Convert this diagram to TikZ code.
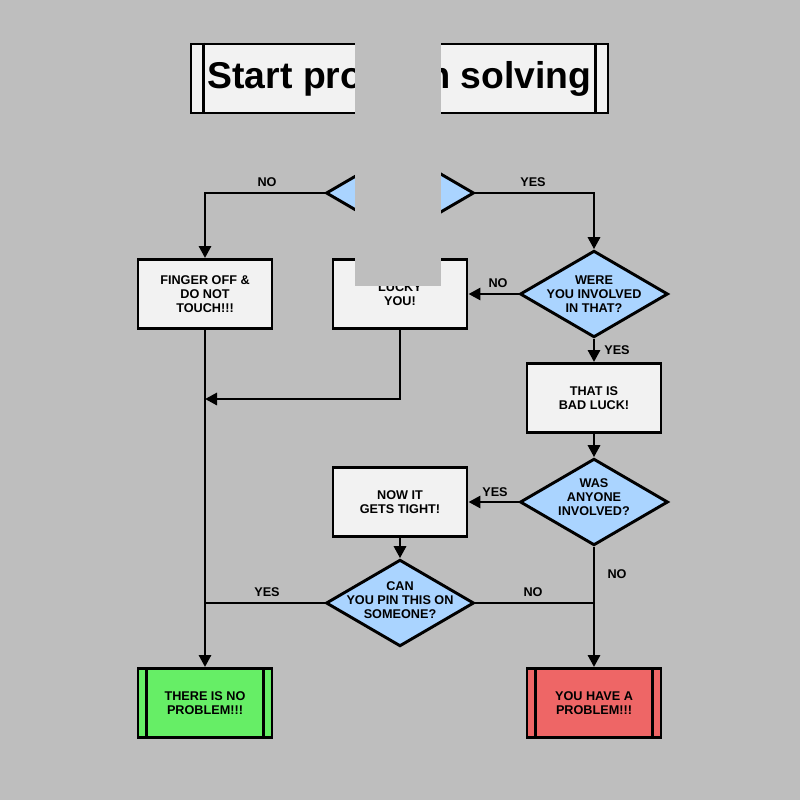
\documentclass[tikz,border=0pt]{standalone}
\usepackage{fontspec}
\setmainfont{Liberation Sans}
\usetikzlibrary{shapes.geometric,arrows.meta}
\definecolor{bg}{HTML}{BEBEBE}
\definecolor{boxf}{HTML}{F2F2F2}
\definecolor{dia}{HTML}{AAD4FF}
\definecolor{gr}{HTML}{66EE66}
\definecolor{rd}{HTML}{EE6666}
\begin{document}
\begin{tikzpicture}[x=0.75pt,y=-0.75pt,
  box/.style={draw,line width=2.2pt,fill=boxf,minimum width=100.5pt,minimum height=51.75pt,inner sep=0pt,align=center,font=\fontsize{9.5}{10.5}\selectfont\bfseries},
  dm/.style={draw,line width=2.2pt,fill=dia,diamond,minimum width=111pt,minimum height=65pt,inner sep=0pt},
  lab/.style={font=\fontsize{9.5}{10.5}\selectfont\bfseries,align=center,inner sep=0pt},
  ln/.style={line width=2.2pt},
  ar/.style={line width=2.2pt,-{Triangle[length=9pt,width=9pt]}},
  bar/.style={line width=2.2pt}]
\fill[bg] (0,0) rectangle (800,800);
\useasboundingbox (0,0) rectangle (800,800);
\node[box,minimum width=312.75pt,minimum height=51.75pt,font=\fontsize{28}{30}\selectfont\bfseries] (t) at (399.5,78.5) {Start problem solving};
\draw[bar] ([xshift=10.5pt]t.north west) -- ([xshift=10.5pt]t.south west);
\draw[bar] ([xshift=-10.5pt]t.north east) -- ([xshift=-10.5pt]t.south east);
\node[dm] (d1) at (400,193) {};
\node[box] (f) at (205,294) {FINGER OFF \&\\DO NOT\\TOUCH!!!};
\node[box] (l) at (400,294) {LUCKY\\YOU!};
\node[dm] (d2) at (594,294) {};
\node[lab] at (594,294) {WERE\\YOU INVOLVED\\IN THAT?};
\node[box] (b) at (594,398) {THAT IS\\BAD LUCK!};
\node[dm] (d3) at (594,502) {};
\node[lab] at (594,497) {WAS\\ANYONE\\INVOLVED?};
\node[box] (n) at (400,502) {NOW IT\\GETS TIGHT!};
\node[dm] (d4) at (400,603) {};
\node[lab] at (400,600) {CAN\\YOU PIN THIS ON\\SOMEONE?};
\node[box,fill=gr] (g) at (205,703) {THERE IS NO\\PROBLEM!!!};
\node[box,fill=rd] (r) at (594,703) {YOU HAVE A\\PROBLEM!!!};
\foreach \n in {g,r}{
 \draw[bar] ([xshift=7.5pt]\n.north west) -- ([xshift=7.5pt]\n.south west);
 \draw[bar] ([xshift=-7.5pt]\n.north east) -- ([xshift=-7.5pt]\n.south east);}
\coordinate (j1) at (205,399);
\draw[ar] (d1.west) -| (f.north);
\draw[ar] (d1.east) -| (d2.north);
\draw[ar] (d2.west) -- (l.east);
\draw[ar] (d2.south) -- (b.north);
\draw[ar] (b.south) -- (d3.north);
\draw[ar] (d3.west) -- (n.east);
\draw[ar] (n.south) -- (d4.north);
\draw[ar] (l.south) |- (j1);
\draw[ar] (f.south) -- (g.north);
\draw[ar] (d3.south) -- (r.north);
\draw[ln] (d4.west) -- (205,603);
\draw[ln] (d4.east) -- (594,603);
\node[lab] at (267,182) {NO};
\node[lab] at (533,182) {YES};
\node[lab] at (498,283) {NO};
\node[lab] at (617,350) {YES};
\node[lab] at (495,492) {YES};
\node[lab] at (617,574) {NO};
\node[lab] at (267,592) {YES};
\node[lab] at (533,592) {NO};
\fill[bg] (355,38) rectangle (441,286);
\end{tikzpicture}
\end{document}
